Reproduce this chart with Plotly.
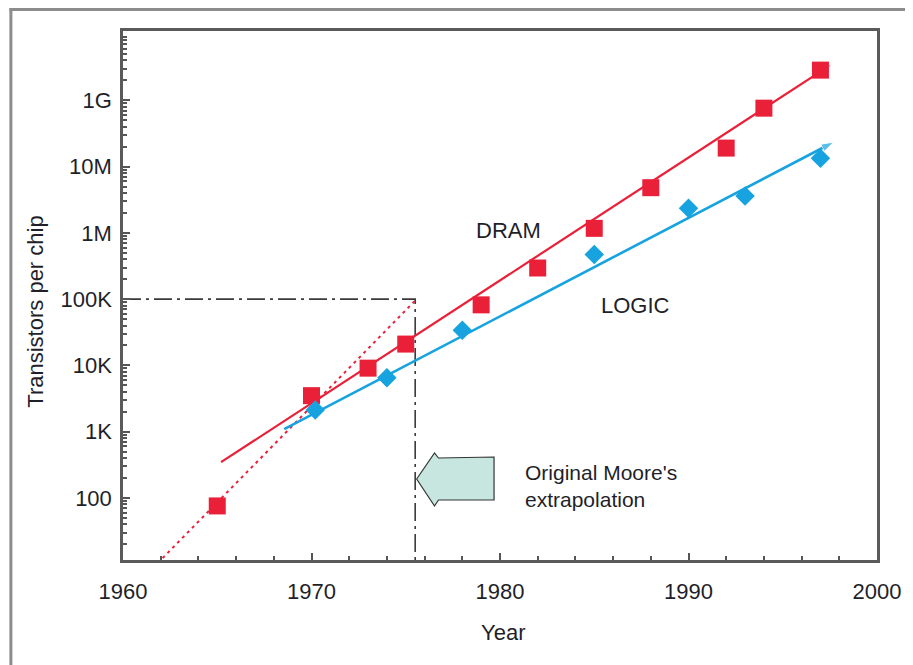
import plotly.graph_objects as go

# ---- data ----
dram_years = [1965, 1970, 1973, 1975, 1979, 1982, 1985, 1988, 1992, 1994, 1997]
dram_counts = [76, 3500, 9100, 21000, 82000, 295000, 1.17e6, 4.8e6, 1.9e7, 7.6e7, 2.85e8]

logic_years = [1970.2, 1974, 1978, 1985, 1990, 1993, 1997]
logic_counts = [2120, 6500, 34000, 470000, 2.35e6, 3.6e6, 1.34e7]

dram_trend_years = [1965.2, 1997.6]
dram_trend_counts = [347, 3.5e8]

logic_trend_years = [1968.55, 1997.7]
logic_trend_counts = [1096, 2.34e7]

moore_years = [1962.1, 1975.5]
moore_counts = [12.4, 9.5e4]

guide_years = [1960, 1975.5, 1975.5]
guide_counts = [1e5, 1e5, 11.6]

y_tickvals = [1e2, 1e3, 1e4, 1e5, 1e6, 1e7, 1e8]
y_ticktext = ["100", "1K", "10K", "100K", "1M", "10M", "1G"]
x_tickvals = [1960, 1970, 1980, 1990, 2000]

RED = "#ea2039"
BLUE = "#16a3e0"
TXT = "#1f1f2a"
FONT = "Liberation Sans Narrow, Arial Narrow, Liberation Sans, Arial, sans-serif"

# layout geometry (figure pixels); the page adds an 8px body margin
OFF = 8
W, H = 913 - OFF, 665 - OFF
L, T = 123 - OFF, 31 - OFF
R = W - (883 - OFF)
B = H - (560 - OFF)
PW, PH = W - L - R, H - T - B


def px(x):
    return (x - OFF - L) / PW


def py(y):
    return (T + PH - (y - OFF)) / PH


fig = go.Figure()

# dash-dot guide
fig.add_trace(go.Scatter(x=guide_years, y=guide_counts, mode="lines",
                         line=dict(color="#3a3a3a", width=1.6, dash="18px,5px,3px,5px"),
                         hoverinfo="skip", showlegend=False))
# Moore's original extrapolation (dotted)
fig.add_trace(go.Scatter(x=moore_years, y=moore_counts, mode="lines",
                         line=dict(color=RED, width=2, dash="3px,4px"),
                         hoverinfo="skip", showlegend=False))
# trend lines with arrowheads
fig.add_trace(go.Scatter(x=dram_trend_years, y=dram_trend_counts, mode="lines+markers",
                         line=dict(color=RED, width=2.2),
                         marker=dict(symbol="arrow", angleref="previous", size=[0, 13], color=RED),
                         hoverinfo="skip", showlegend=False))
fig.add_trace(go.Scatter(x=logic_trend_years, y=logic_trend_counts, mode="lines+markers",
                         line=dict(color=BLUE, width=2.6),
                         marker=dict(symbol="arrow", angleref="previous", size=[0, 13], color=BLUE),
                         hoverinfo="skip", showlegend=False))
# data points
fig.add_trace(go.Scatter(x=dram_years, y=dram_counts, mode="markers", name="DRAM",
                         marker=dict(symbol="square", size=17, color=RED),
                         showlegend=False))
fig.add_trace(go.Scatter(x=logic_years, y=logic_counts, mode="markers", name="LOGIC",
                         marker=dict(symbol="diamond", size=15, color=BLUE),
                         showlegend=False))

minor_vals = [m * 10 ** d for d in range(1, 10) for m in range(2, 10)]

fig.update_xaxes(range=[1960, 2000], tickvals=x_tickvals, ticks="inside", ticklen=7,
                 tickwidth=2, tickcolor="#555",
                 showline=True, mirror=True, linecolor="#5a5a5a", linewidth=2.5,
                 showgrid=False, zeroline=False,
                 tickfont=dict(family=FONT, size=22, color=TXT),
                 ticklabelstandoff=10,
                 minor=dict(dtick=2, ticks="inside", ticklen=4, tickcolor="#555", tickwidth=2,
                            showgrid=False))
fig.update_yaxes(type="log", range=[1.065, 9.045], tickvals=y_tickvals, ticktext=y_ticktext,
                 ticks="inside", ticklen=7, tickwidth=1.5, tickcolor="#555",
                 showline=True, mirror=True, linecolor="#5a5a5a", linewidth=2.5,
                 showgrid=False, zeroline=False,
                 tickfont=dict(family=FONT, size=22, color=TXT),
                 ticklabelstandoff=4,
                 minor=dict(tickvals=minor_vals, ticks="inside", ticklen=4, tickcolor="#555",
                            tickwidth=1.5, showgrid=False))

# block arrow (paper coords)
pts = [(419, 479), (437, 453), (441, 458), (497, 457), (497, 500), (441, 500), (437, 506)]
path = "M " + " L ".join(f"{px(a):.5f},{py(b):.5f}" for a, b in pts) + " Z"
shapes = [
    dict(type="path", xref="paper", yref="paper", path=path,
         fillcolor="#c6e6df", line=dict(color="#333", width=1.2)),
    # outer frame
    dict(type="line", xref="paper", yref="paper", x0=px(10), x1=px(10), y0=py(8.5), y1=py(700),
         line=dict(color="#8c8c8c", width=3)),
    dict(type="line", xref="paper", yref="paper", x0=px(8.5), x1=px(950), y0=py(9.5), y1=py(9.5),
         line=dict(color="#8c8c8c", width=3)),
]


def label(text, x, y, size=22, **kw):
    d = dict(text=text, x=px(x), y=py(y), xref="paper", yref="paper", showarrow=False,
             xanchor="center", yanchor="middle",
             font=dict(family=FONT, size=size, color=TXT))
    d.update(kw)
    return d


annotations = [
    label("DRAM", 512, 231),
    label("LOGIC", 640, 305),
    label("Original Moore's<br>extrapolation", 526, 486, size=21, xanchor="left", align="left"),
    label("Transistors per chip", 34, 312, textangle=-90),
    label("Year", 506, 632),
]

fig.update_layout(width=W, height=H, margin=dict(l=L, r=R, t=T, b=B),
                  paper_bgcolor="white", plot_bgcolor="white",
                  shapes=shapes, annotations=annotations, showlegend=False)

fig.write_html("out.html")
